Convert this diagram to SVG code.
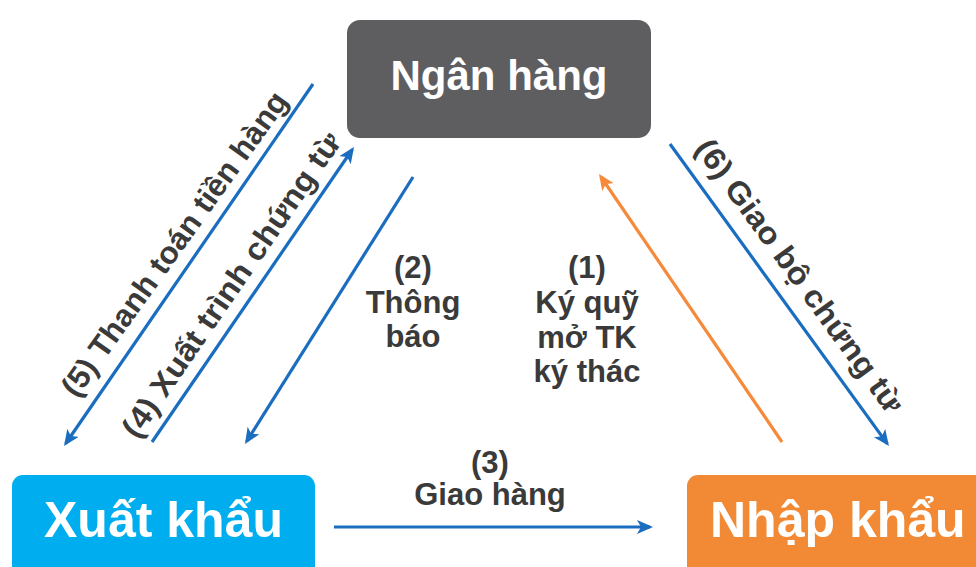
<svg xmlns="http://www.w3.org/2000/svg" width="976" height="567" viewBox="0 0 976 567">
  <style>
    .node-title { font-family: "Liberation Sans", Arial, sans-serif; font-weight: bold; fill: #ffffff; }
    .lbl { font-family: "Liberation Sans", Arial, sans-serif; font-weight: bold; font-size: 31px; fill: #3a3a3a; text-anchor: middle; }
    .dlbl { font-family: "Liberation Sans", Arial, sans-serif; font-weight: bold; font-size: 31px; fill: #3a3a3a; text-anchor: middle; }
    .cb { stroke: #1a6dbf; stroke-width: 3.2; fill: none; marker-end: url(#ab); }
    .co { stroke: #f58a3a; stroke-width: 3.2; fill: none; marker-end: url(#ao); }
  </style>
  <defs>
    <marker id="ab" markerUnits="userSpaceOnUse" markerWidth="16" markerHeight="14" viewBox="0 0 16 14" refX="13" refY="7" orient="auto">
      <path d="M0,0 L16,7 L0,14 L4,7 z" fill="#1a6dbf"/>
    </marker>
    <marker id="ao" markerUnits="userSpaceOnUse" markerWidth="16" markerHeight="14" viewBox="0 0 16 14" refX="13" refY="7" orient="auto">
      <path d="M0,0 L16,7 L0,14 L4,7 z" fill="#f58a3a"/>
    </marker>
  </defs>
  <rect width="976" height="567" fill="#ffffff"/>

  <g id="node-ngan-hang">
    <rect x="347" y="20" width="304" height="118" rx="13" fill="#5e5e60"/>
    <text class="node-title" x="499" y="90" font-size="42" text-anchor="middle">Ngân hàng</text>
  </g>
  <g id="node-xuat-khau">
    <rect x="12" y="475" width="303" height="110" rx="11" fill="#00adef"/>
    <text class="node-title" x="163.5" y="537" font-size="50" text-anchor="middle">Xuất khẩu</text>
  </g>
  <g id="node-nhap-khau">
    <rect x="687" y="475" width="303" height="110" rx="11" fill="#f28a35"/>
    <text class="node-title" x="710" y="537" font-size="50">Nhập khẩu</text>
  </g>

  <g id="connectors">
    <line class="co" x1="782" y1="442" x2="600.7" y2="176.5"/>
    <line class="cb" x1="413" y1="177" x2="246.6" y2="441.5"/>
    <line class="cb" x1="334" y1="527" x2="650" y2="527"/>
    <line class="cb" x1="152" y1="442" x2="352.3" y2="149.5"/>
    <line class="cb" x1="313" y1="84" x2="65.7" y2="443.5"/>
    <line class="cb" x1="670" y1="144" x2="887.2" y2="443.6"/>
  </g>

  <g id="labels">
    <text class="lbl" x="587" y="278">(1)</text>
    <text class="lbl" x="587" y="313">Ký quỹ</text>
    <text class="lbl" x="587" y="348">mở TK</text>
    <text class="lbl" x="587" y="382">ký thác</text>

    <text class="lbl" x="413" y="278">(2)</text>
    <text class="lbl" x="413" y="313">Thông</text>
    <text class="lbl" x="413" y="347">báo</text>

    <text class="lbl" x="490" y="473">(3)</text>
    <text class="lbl" x="490" y="505">Giao hàng</text>

    <text class="dlbl" x="240" y="291" transform="rotate(-55.5 240 291)" textLength="362" lengthAdjust="spacingAndGlyphs">(4) Xuất trình chứng từ</text>
    <text class="dlbl" x="183" y="250" transform="rotate(-54.5 183 250)" textLength="366" lengthAdjust="spacingAndGlyphs">(5) Thanh toán tiền hàng</text>
    <text class="dlbl" x="791" y="282" transform="rotate(54 791 282)" textLength="330" lengthAdjust="spacingAndGlyphs">(6) Giao bộ chứng từ</text>
  </g>
</svg>
